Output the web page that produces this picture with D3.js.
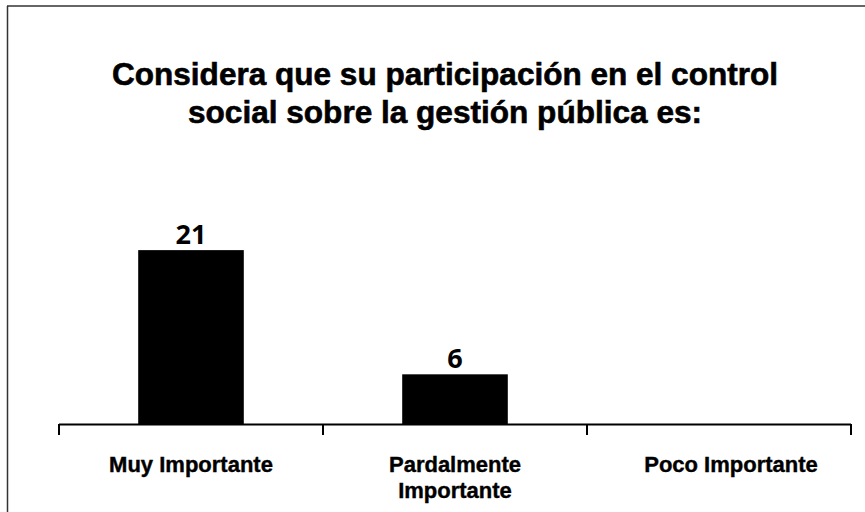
<!DOCTYPE html>
<html lang="es">
<head>
<meta charset="utf-8">
<title>Control social</title>
<script src="https://d3js.org/d3.v7.min.js"></script>
<style>
  body { margin: 0; background: #fff; }
  text { font-family: "Liberation Sans", Arial, sans-serif; font-weight: bold; fill: #000; }
</style>
</head>
<body>
<script>
// datos
var categorias = ["Muy Importante", "Pardalmente Importante", "Poco Importante"];
var etiquetas = [["Muy Importante"], ["Pardalmente", "Importante"], ["Poco Importante"]];
var valores = [21, 6, 0];
var titulo = ["Considera que su participación en el control", "social sobre la gestión pública es:"];

var W = 865, H = 512;
var svg = d3.select("body").append("svg").attr("width", W).attr("height", H);

// marco del grafico (solo se ven borde superior e izquierdo)
svg.append("line").attr("x1", 7).attr("y1", 6).attr("x2", W).attr("y2", 6)
   .attr("stroke", "#333").attr("stroke-width", 1.5);
svg.append("line").attr("x1", 7.5).attr("y1", 6).attr("x2", 7.5).attr("y2", H)
   .attr("stroke", "#333").attr("stroke-width", 1.5);

// titulo
var tLen = [666, 514];
svg.selectAll(".titulo").data(titulo).enter().append("text")
   .attr("class", "titulo")
   .attr("x", 445)
   .attr("y", function(d, i){ return 85 + i * 38; })
   .attr("text-anchor", "middle")
   .attr("font-size", 32)
   .attr("stroke", "#000").attr("stroke-width", 0.6)
   .attr("textLength", function(d, i){ return tLen[i]; })
   .attr("lengthAdjust", "spacingAndGlyphs")
   .text(function(d){ return d; });

var x = d3.scaleBand().domain(categorias).range([59, 851]).paddingInner(0.6).paddingOuter(0.3);
var y = d3.scaleLinear().domain([0, 25]).range([424, 217]);

// barras
svg.selectAll(".bar").data(valores).enter().append("rect")
   .attr("class", "bar")
   .attr("x", function(d, i){ return x(categorias[i]); })
   .attr("width", x.bandwidth())
   .attr("y", function(d){ return y(d); })
   .attr("height", function(d){ return y(0) - y(d); })
   .attr("fill", "#000");

// etiquetas de datos
svg.selectAll(".val").data(valores.filter(function(d){ return d > 0; })).enter().append("text")
   .attr("class", "val")
   .attr("x", function(d, i){ return x(categorias[i]) + x.bandwidth() / 2; })
   .attr("y", function(d){ return y(d) - 6; })
   .attr("text-anchor", "middle")
   .style("font-family", "'Open Sans', 'DejaVu Sans', sans-serif")
   .attr("font-size", 27)
   .text(function(d){ return d; });

// eje x con marcas en los limites de categoria
var eje = svg.append("g");
eje.append("line").attr("x1", 59).attr("x2", 851).attr("y1", 424.5).attr("y2", 424.5)
   .attr("stroke", "#000").attr("stroke-width", 2);
var limites = [59, 851].concat(categorias.slice(1).map(function(c){ return x(c) - x.step() * x.paddingInner() / 2; }));
eje.selectAll(".tick").data(limites).enter().append("line")
   .attr("x1", function(d){ return d; }).attr("x2", function(d){ return d; })
   .attr("y1", 424).attr("y2", 435)
   .attr("stroke", "#000").attr("stroke-width", 2);

// etiquetas de categoria
var lab = svg.selectAll(".cat").data(etiquetas).enter().append("text")
   .attr("class", "cat")
   .attr("text-anchor", "middle")
   .attr("font-size", 22)
   .attr("stroke", "#000").attr("stroke-width", 0.4)
   .attr("transform", function(d, i){ return "translate(" + (x(categorias[i]) + x.bandwidth() / 2 + (i === 2 ? 12 : 0)) + ",472)"; });
lab.selectAll("tspan").data(function(d){ return d; }).enter().append("tspan")
   .attr("x", 0)
   .attr("dy", function(d, i){ return i === 0 ? 0 : 26; })
   .text(function(d){ return d; });
</script>
</body>
</html>
